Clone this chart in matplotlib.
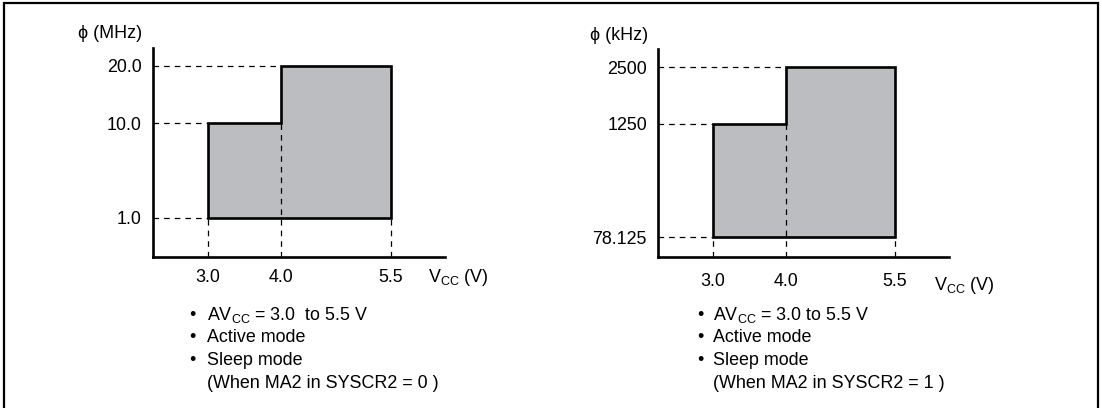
import numpy as np
import matplotlib.pyplot as plt
from matplotlib.patches import Rectangle

plt.rcParams['font.family'] = ['Liberation Sans', 'DejaVu Sans']
plt.rcParams['font.size'] = 12.9

# operating range: supply voltages and frequency levels
volts = [3.0, 4.0, 5.5]
mhz_levels = [1.0, 10.0, 20.0]
khz_levels = [78.125, 1250, 2500]
mhz_labels = ['1.0', '10.0', '20.0']
khz_labels = ['78.125', '1250', '2500']
notes_left = ['AV$_\\mathregular{CC}$ = 3.0  to 5.5 V', 'Active mode', 'Sleep mode',
              '(When MA2 in SYSCR2 = 0 )']
notes_right = ['AV$_\\mathregular{CC}$ = 3.0 to 5.5 V', 'Active mode', 'Sleep mode',
               '(When MA2 in SYSCR2 = 1 )']

W, H = 1102, 408
fig = plt.figure(figsize=(W / 100, H / 100), dpi=100)

# frame round the figure (open at the bottom)
fig.patches.append(Rectangle((4 / W, -0.1), 1094 / W, 1.1 - 3 / H, transform=fig.transFigure,
                             fill=False, ec='black', lw=1.6, zorder=0))

fill_col = '#bcbdc0'
dash = (0, (4.5, 4))


def panel(left, right, top, bottom, xlim, levels, ypos, ytop, labels, xlab_pad):
    ax = fig.add_axes([left / W, 1 - bottom / H, (right - left) / W, (bottom - top) / H])
    ymap = lambda v: np.interp(v, levels, ypos)
    v0, v1, v2 = volts
    l0, l1, l2 = levels
    xs = [v0, v0, v1, v1, v2, v2]
    ys = ymap([l0, l1, l1, l2, l2, l0])
    ax.fill(xs, ys, fc=fill_col, ec='black', lw=1.9, joinstyle='miter', zorder=3)

    # guide lines
    kw = dict(color='black', lw=0.9, ls=dash)
    ax.plot([xlim[0], v1], [ymap(l2)] * 2, zorder=2, **kw)
    ax.plot([xlim[0], v0], [ymap(l1)] * 2, zorder=2, **kw)
    ax.plot([xlim[0], v0], [ymap(l0)] * 2, zorder=2, **kw)
    ax.plot([v0, v0], [0, ymap(l0)], zorder=2, **kw)
    ax.plot([v1, v1], [0, ymap(l1)], zorder=4, **kw)
    ax.plot([v2, v2], [0, ymap(l0)], zorder=2, **kw)

    ax.set_xlim(*xlim)
    ax.set_ylim(0, ytop)
    for s in ['top', 'right']:
        ax.spines[s].set_visible(False)
    for s in ['left', 'bottom']:
        ax.spines[s].set_linewidth(1.9)
    ax.set_xticks(volts)
    ax.set_xticklabels(['%.1f' % v for v in volts])
    ax.set_yticks(ymap(levels))
    ax.set_yticklabels(labels)
    ax.tick_params(axis='y', length=0, pad=8)
    ax.tick_params(axis='x', length=0, pad=xlab_pad)
    ax.patch.set_visible(False)
    return ax


ax1 = panel(153, 445, 48, 257, (2.249, 6.238), mhz_levels, [39, 134, 191], 209,
            mhz_labels, 8.5)
ax2 = panel(658, 949, 49, 257, (2.245, 6.24), khz_levels, [20, 133, 190], 208,
            khz_labels, 11.5)

# axis titles
fig.text(142 / W, 1 - 33 / H, '\u03d5 (MHz)', ha='right', va='center')
fig.text(648 / W, 1 - 35 / H, '\u03d5 (kHz)', ha='right', va='center')
fig.text(428 / W, 1 - 277 / H, 'V$_\\mathregular{CC}$ (V)', ha='left', va='center')
fig.text(934 / W, 1 - 285 / H, 'V$_\\mathregular{CC}$ (V)', ha='left', va='center')

# notes under each panel
for notes, bx, tx in [(notes_left, 192, 207), (notes_right, 700, 713)]:
    for i, t in enumerate(notes):
        y = 1 - (315 + 22.7 * i) / H
        if i < 3:
            fig.text(bx / W, y, '\u2022', ha='center', va='center')
        fig.text(tx / W, y, t, ha='left', va='center')

fig.savefig('out.png', dpi=100)
